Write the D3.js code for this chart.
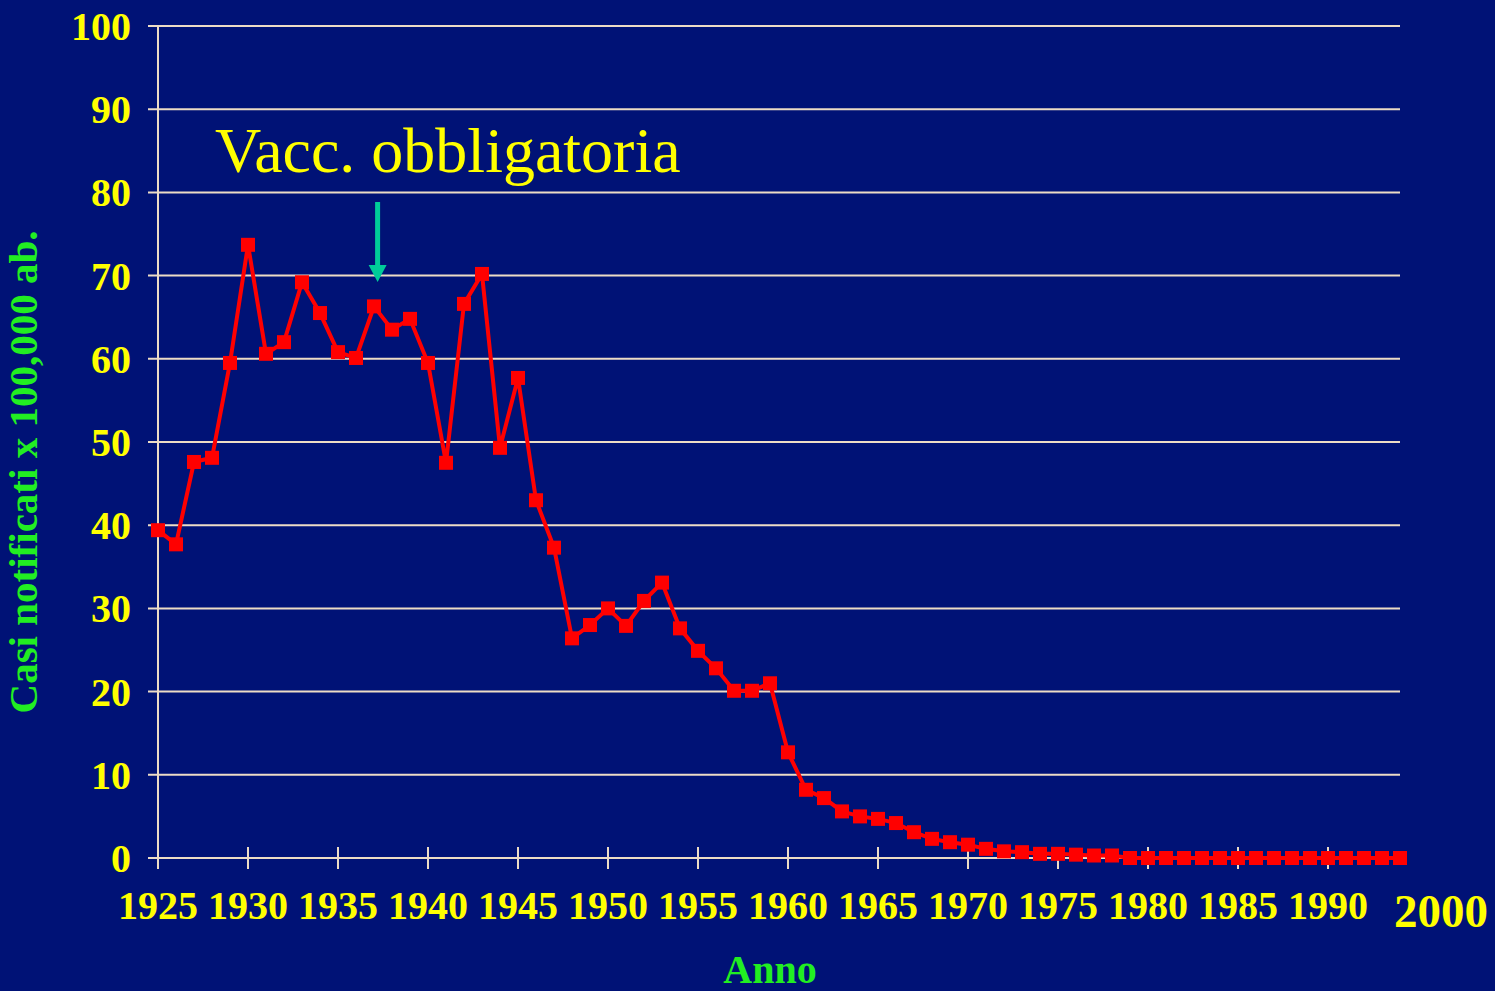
<!DOCTYPE html>
<meta charset="utf-8">
<head>
<script src="https://d3js.org/d3.v7.min.js"></script>
<style>
  body { margin: 0; background: #001276; }
  text { font-family: "Liberation Serif", "Times New Roman", serif; }
</style>
</head>
<body>
<div id="chart"></div>
<script>

// years 1925..1994, cases per 100,000
var years = d3.range(1925, 1995);
var cases = [
  39.4, 37.7, 47.6, 48.1, 59.5, 73.7, 60.6, 62.0, 69.2, 65.5,
  60.8, 60.1, 66.3, 63.5, 64.8, 59.5, 47.5, 66.6, 70.2, 49.3,
  57.7, 43.0, 37.3, 26.4, 28.0, 30.0, 27.9, 30.9, 33.1, 27.6,
  24.9, 22.8, 20.1, 20.1, 21.0, 12.7, 8.2, 7.2, 5.6, 5.0,
  4.7, 4.2, 3.1, 2.3, 1.9, 1.6, 1.1, 0.8, 0.7, 0.5,
  0.5, 0.4, 0.3, 0.3, 0, 0, 0, 0, 0, 0,
  0, 0, 0, 0, 0, 0, 0, 0, 0, 0
];
var xTicks = d3.range(1925, 1995, 5);
var yTicks = d3.range(0, 101, 10);
var annotationYear = 1937.2;

var data = years.map(function(y, i) { return { year: y, value: cases[i] }; });

var W = 1495, H = 991;
var svg = d3.select("#chart").append("svg")
  .attr("width", W).attr("height", H);

svg.append("rect").attr("width", W).attr("height", H).attr("fill", "#001276");

var x = d3.scaleLinear().domain([1925, 1994]).range([158, 1400]);
var y = d3.scaleLinear().domain([0, 100]).range([858, 26]);

var gridColor = "#ecdcc6";

// horizontal gridlines
svg.append("g").selectAll("line")
  .data(yTicks)
  .join("line")
    .attr("x1", 148).attr("x2", 1400)
    .attr("y1", function(d) { return y(d); })
    .attr("y2", function(d) { return y(d); })
    .attr("stroke", gridColor)
    .attr("stroke-width", 2);

// y axis line
svg.append("line")
  .attr("x1", x(1925)).attr("x2", x(1925))
  .attr("y1", y(100)).attr("y2", y(0))
  .attr("stroke", gridColor).attr("stroke-width", 2);

// x ticks crossing axis
svg.append("g").selectAll("line")
  .data(xTicks)
  .join("line")
    .attr("x1", function(d) { return x(d); })
    .attr("x2", function(d) { return x(d); })
    .attr("y1", y(0) - 11).attr("y2", y(0) + 11)
    .attr("stroke", gridColor).attr("stroke-width", 2);

// y tick labels
svg.append("g").selectAll("text")
  .data(yTicks)
  .join("text")
    .attr("x", 131)
    .attr("y", function(d) { return y(d) + 14; })
    .attr("text-anchor", "end")
    .attr("font-size", 40).attr("font-weight", "bold")
    .attr("fill", "#ffff00")
    .text(function(d) { return d; });

// x tick labels
svg.append("g").selectAll("text")
  .data(xTicks)
  .join("text")
    .attr("x", function(d) { return x(d); })
    .attr("y", 919)
    .attr("text-anchor", "middle")
    .attr("font-size", 40).attr("font-weight", "bold")
    .attr("fill", "#ffff00")
    .text(function(d) { return d; });

svg.append("text")
  .attr("x", 1441).attr("y", 927)
  .attr("text-anchor", "middle")
  .attr("font-size", 47).attr("font-weight", "bold")
  .attr("fill", "#ffff00")
  .text("2000");

// axis titles
svg.append("text")
  .attr("x", 770).attr("y", 983)
  .attr("text-anchor", "middle")
  .attr("font-size", 40).attr("font-weight", "bold")
  .attr("fill", "#22ee22")
  .text("Anno");

svg.append("text")
  .attr("transform", "translate(37,472) rotate(-90)")
  .attr("text-anchor", "middle")
  .attr("font-size", 41).attr("font-weight", "bold")
  .attr("fill", "#22ee22")
  .text("Casi notificati x 100,000 ab.");

// the line
svg.append("path").datum(data)
  .attr("fill", "none")
  .attr("stroke", "#ff0000")
  .attr("stroke-width", 4)
  .attr("d", d3.line()
    .x(function(d) { return x(d.year); })
    .y(function(d) { return y(d.value); }));

// square markers
var s = 14;
svg.append("g").selectAll("rect")
  .data(data)
  .join("rect")
    .attr("x", function(d) { return x(d.year) - s / 2; })
    .attr("y", function(d) { return y(d.value) - s / 2; })
    .attr("width", s).attr("height", s)
    .attr("fill", "#ff0000");

// annotation
svg.append("text")
  .attr("x", 215).attr("y", 172)
  .attr("font-size", 64)
  .attr("fill", "#ffff00")
  .text("Vacc. obbligatoria");

var ax = x(annotationYear);
svg.append("line")
  .attr("x1", ax).attr("x2", ax)
  .attr("y1", 202).attr("y2", 268)
  .attr("stroke", "#00cc99").attr("stroke-width", 5);
svg.append("path")
  .attr("d", "M" + (ax - 9) + ",265 L" + (ax + 9) + ",265 L" + ax + ",282 Z")
  .attr("fill", "#00cc99");

</script>
</body>
</html>
